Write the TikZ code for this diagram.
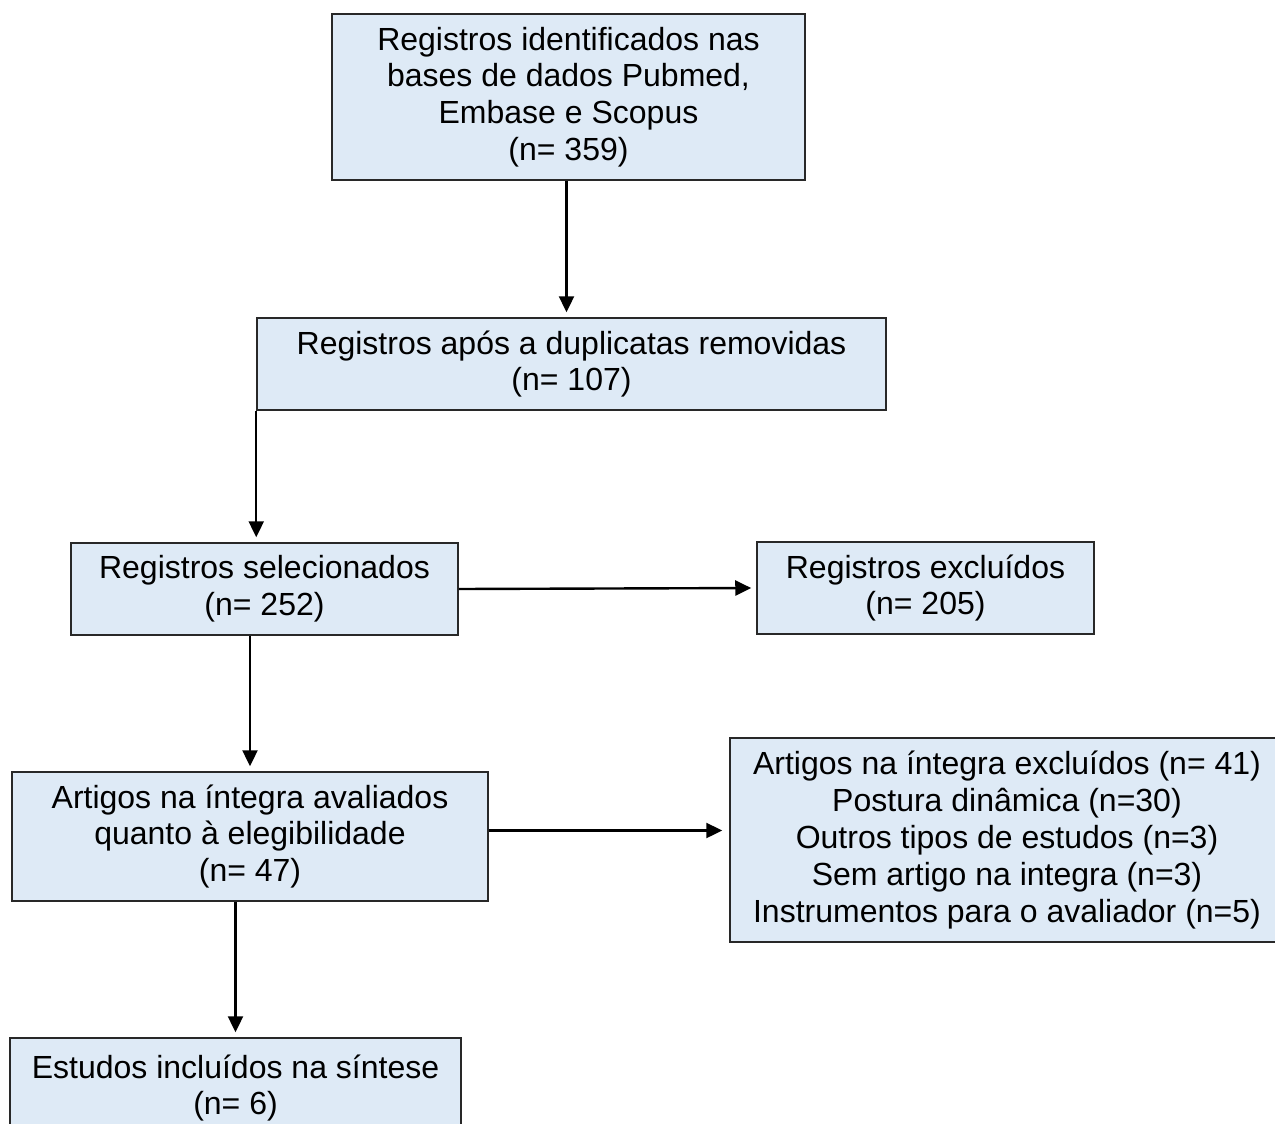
\documentclass[tikz,border=0pt]{standalone}
\usepackage{fontspec}
\setmainfont{Liberation Sans}
\usetikzlibrary{arrows.meta}
\definecolor{boxblue}{RGB}{222,234,246}
\definecolor{boxline}{RGB}{40,40,40}

\begin{document}
\begin{tikzpicture}[x=0.5pt, y=-0.5pt,
    box/.style={draw=boxline, line width=0.75pt, fill=boxblue, align=center,
      inner sep=0pt, font=\fontsize{16}{18.4}\selectfont},
    arr/.style={line width=1.2pt, shorten >=2.5pt, -{Triangle[length=8pt,width=7.5pt]}}]
    \clip (0,0) rectangle (1275,1124);
    \node (reg) [box, minimum width=236.5pt, minimum height=83pt] at (568.5,97)
      {Registros identificados nas\\bases de dados Pubmed,\\Embase e Scopus\\(n= 359)};
    \node (dup) [box, minimum width=314.5pt, minimum height=46pt] at (571.5,364)
      {Registros após a duplicatas removidas\\(n= 107)};
    \node (sel) [box, minimum width=193.5pt, minimum height=46pt] at (264.5,589)
      {Registros selecionados\\(n= 252)};
    \node (exc) [box, minimum width=168.5pt, minimum height=46pt] at (925.5,588)
      {Registros excluídos\\(n= 205)};
    \node (ava) [box, minimum width=238pt, minimum height=64.5pt] at (250,836.5)
      {Artigos na íntegra avaliados\\quanto à elegibilidade\\(n= 47)};
    \node (exc2) [box, minimum width=277pt, minimum height=102pt] at (1007,840)
      {Artigos na íntegra excluídos (n= 41)\\Postura dinâmica (n=30)\\Outros tipos de estudos (n=3)\\Sem artigo na integra (n=3)\\Instrumentos para o avaliador (n=5)};
    \node (inc) [box, minimum width=225.5pt, minimum height=50pt] at (235.5,1088)
      {Estudos incluídos na síntese\\(n= 6)};
    % connectors
    \draw[arr] ([xshift=-1pt]reg.south) -- ([xshift=-1pt]reg.south |- dup.north);
    \draw[arr] (dup.south west) -- (dup.south west |- sel.north);
    \draw[arr] (ava.north |- sel.south) -- (ava.north);
    \draw[arr] (sel.east) -- (exc.west);
    \draw[arr, shorten >=3.5pt] ([yshift=3pt]ava.east) -- ([yshift=3pt]ava.east -| exc2.west);
    \draw[arr] (inc.north |- ava.south) -- (inc.north);
\end{tikzpicture}
\end{document}
